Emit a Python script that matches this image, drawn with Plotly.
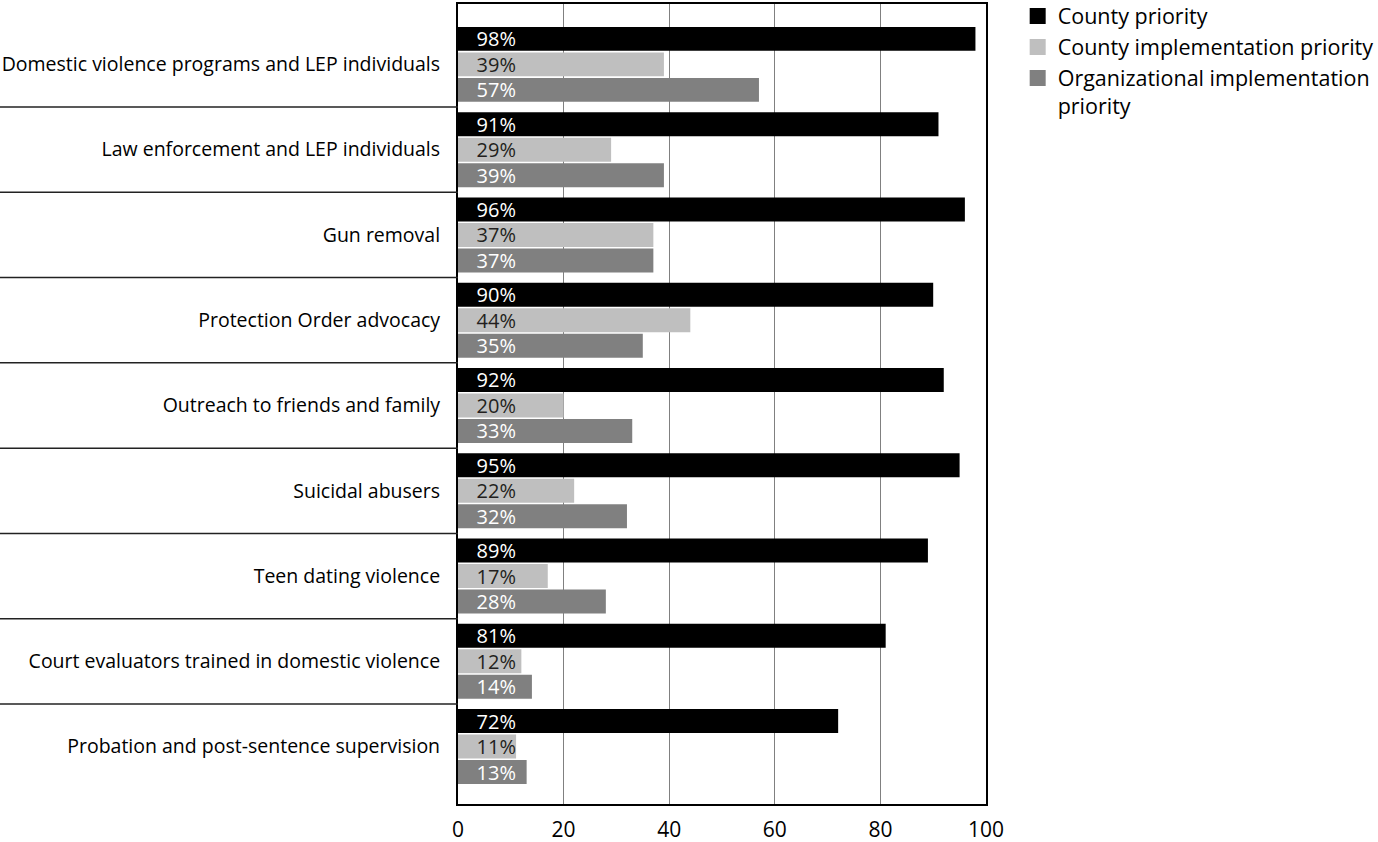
import plotly.graph_objects as go

categories = [
    "Domestic violence programs and LEP individuals",
    "Law enforcement and LEP individuals",
    "Gun removal",
    "Protection Order advocacy",
    "Outreach to friends and family",
    "Suicidal abusers",
    "Teen dating violence",
    "Court evaluators trained in domestic violence",
    "Probation and post-sentence supervision",
]
county_priority = [98, 91, 96, 90, 92, 95, 89, 81, 72]
county_impl = [39, 29, 37, 44, 20, 22, 17, 12, 11]
org_impl = [57, 39, 37, 35, 33, 32, 28, 14, 13]
series_names = ["County priority", "County implementation priority",
                "Organizational implementation<br>priority"]
series_colors = ["#000000", "#bfbfbf", "#808080"]
text_colors = ["#ffffff", "#231f20", "#ffffff"]
x_ticks = [0, 20, 40, 60, 80, 100]

FONT = "Open Sans"
fig = go.Figure()
for name, vals, col, tcol in zip(series_names, [county_priority, county_impl, org_impl],
                                 series_colors, text_colors):
    fig.add_trace(go.Bar(
        y=categories, x=vals, orientation="h", name=name,
        marker=dict(color=col, line=dict(width=0)),
        text=["\u00a0\u00a0\u00a0" + f"{v}%" for v in vals],
        textposition="inside", insidetextanchor="start",
        textfont=dict(color=tcol, size=20, family=FONT),
        constraintext="none", showlegend=False,
        hoverinfo="skip",
    ))

# legend entries with larger square swatches
for name, col in zip(series_names, series_colors):
    fig.add_trace(go.Scatter(
        x=[None], y=[None], mode="markers", name=name,
        marker=dict(symbol="square", size=16, color=col, line=dict(width=0)),
        hoverinfo="skip", showlegend=True,
    ))

# separator lines between categories extending to the left edge
for i in range(len(categories) - 1):
    fig.add_shape(type="line", xref="paper", yref="y",
                  x0=-458 / 528, x1=0, y0=i + 0.5, y1=i + 0.5,
                  line=dict(color="#222222", width=1.5))

fig.update_layout(
    width=1378, height=842,
    margin=dict(l=458, r=392, t=4, b=38, autoexpand=False),
    paper_bgcolor="white", plot_bgcolor="white",
    barmode="group", bargap=0.103, bargroupgap=0.06,
    font=dict(family=FONT, size=20, color="#000000"),
    showlegend=True,
    legend=dict(x=1.06, y=1.0106, xanchor="left", yanchor="top", valign="top",
                font=dict(size=21.5, family=FONT, color="#000000"),
                traceorder="normal", itemwidth=30, tracegroupgap=0,
                bgcolor="rgba(0,0,0,0)"),
)
fig.update_xaxes(range=[0, 100], tickvals=x_ticks, showgrid=True,
                 gridcolor="#808080", gridwidth=1, showline=True, mirror=True,
                 linecolor="#000000", linewidth=2, ticks="", zeroline=False,
                 tickfont=dict(size=21, family=FONT, color="#000000"),
                 ticklabelstandoff=6, fixedrange=True, automargin=False)
fig.update_yaxes(categoryorder="array", categoryarray=categories,
                 range=[8.673, -0.708], showgrid=False, showline=True, mirror=True,
                 linecolor="#000000", linewidth=2, ticks="",
                 tickfont=dict(size=19.5, family=FONT, color="#000000"),
                 ticklabelstandoff=12, fixedrange=True, automargin=False)

fig.write_html("out.html", config={"displayModeBar": False},
               post_script="document.body.style.margin='0';")
